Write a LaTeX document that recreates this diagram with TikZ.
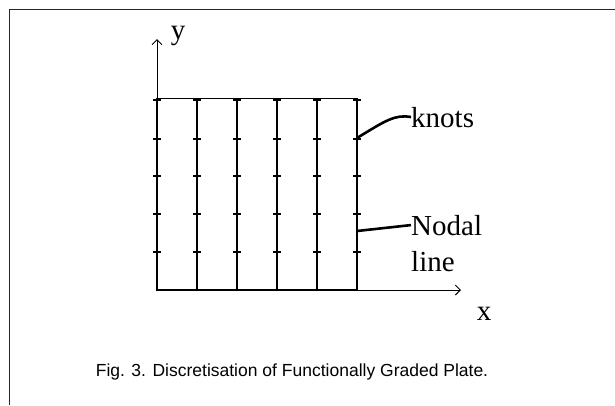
\documentclass[tikz,border=0pt]{standalone}
\usepackage{fontspec}
\setmainfont{Liberation Serif}
\newfontfamily\capfont{Liberation Sans}
\usetikzlibrary{arrows.meta}
\begin{document}
\begin{tikzpicture}[x=1pt,y=-1pt,
  frame/.style={line width=1.4pt,draw=black!85},
  nodal/.style={line width=2.8pt},
  thinline/.style={line width=0.9pt},
  axisarrow/.style={line width=0.9pt,-{Straight Barb[length=5pt,width=10pt,line width=0.9pt]}},
  knottick/.style={line width=2pt},
  leader/.style={line width=2.6pt},
  lbl/.style={font=\fontsize{29}{30}\selectfont,inner sep=0pt},
  caption/.style={font=\capfont\fontsize{17.5}{19}\selectfont,inner sep=0pt}]
\useasboundingbox (0,0) rectangle (615,405);
\draw[frame] (9.5,405) -- (9.5,9.5) -- (615,9.5);
% grid corner coordinates
\coordinate (tl) at (157,98);
\coordinate (tr) at (357,98);
\coordinate (bl) at (157,290);
\coordinate (br) at (357,290);
\coordinate (ytip) at (157,39);
\coordinate (xtip) at (461,290);
% nodal lines
\foreach \x in {157,197,237,277,317,357}{
  \draw[nodal] (\x,98) -- (\x,291.4);
  \foreach \y in {100,139,176,214,252}{
    \draw[knottick] (\x-4,\y) -- (\x+4,\y);
  }
}
\draw[thinline] (tl) -- (tr);
\draw[nodal] (155.6,290) -- (358.4,290);
% axes
\draw[axisarrow] (tl) -- (ytip);
\draw[axisarrow] (br) -- (xtip);
\node[lbl] (ylab) at (178,36) {y};
\node[lbl] (xlab) at (484,314) {x};
% labels
\node[lbl,anchor=base west] (knots) at (411,127) {knots};
\coordinate (k1) at (357,138);
\draw[leader] (k1) .. controls (385,121) and (395,114) .. (knots.west);
\node[lbl,anchor=base west] (nodalline) at (411,235) {Nodal};
\node[lbl,anchor=base west] (linelab) at (411,271) {line};
\coordinate (n1) at (357,231);
\draw[leader] (n1) -- (nodalline.west);
% caption
\node[caption] (cap) at (292,372) {Fig. 3. Discretisation of Functionally Graded Plate.};
\end{tikzpicture}
\end{document}
